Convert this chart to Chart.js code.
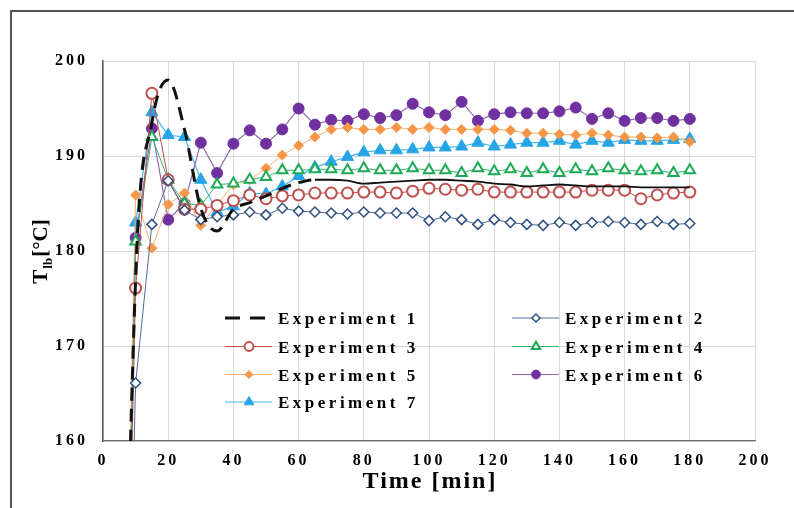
<!DOCTYPE html>
<html>
<head>
<meta charset="utf-8">
<script src="https://cdn.jsdelivr.net/npm/chart.js@4/dist/chart.umd.min.js"></script>
<style>
html, body { margin: 0; padding: 0; background: #fff; overflow: hidden; }
#wrap { position: relative; width: 794px; height: 508px; }
#frame { position: absolute; left: 10px; top: 10px; right: -5px; bottom: -5px;
  border-left: 2px solid #555; border-top: 2px solid #555; pointer-events: none; }
</style>
</head>
<body>
<div id="wrap">
  <canvas id="myChart" width="794" height="508"></canvas>
  <div id="frame"></div>
</div>
<script>
// time axis [min]; first point is the start of the heating, off the plot
const minutes = [0, 10, 15, 20, 25, 30, 35, 40, 45, 50, 55, 60, 65, 70, 75, 80, 85, 90, 95,
  100, 105, 110, 115, 120, 125, 130, 135, 140, 145, 150, 155, 160, 165, 170, 175, 180];

const exp1 = [25, 177.0, 193.5, 198.0, 192.8, 184.5, 182.1, 184.4, 185.1, 185.8, 186.6, 187.2,
  187.5, 187.5, 187.4, 187.1, 187.2, 187.3, 187.4, 187.5, 187.5, 187.4, 187.3, 187.1, 187.0,
  186.8, 186.9, 187.0, 186.9, 186.8, 186.8, 186.8, 186.7, 186.7, 186.7, 186.7];
const exp2 = [25, 166.1, 182.8, 187.4, 184.3, 183.3, 183.6, 183.8, 184.1, 183.8, 184.5, 184.2,
  184.1, 184.0, 183.9, 184.1, 184.0, 184.0, 184.0, 183.2, 183.6, 183.3, 182.8, 183.3, 183.0,
  182.8, 182.7, 183.0, 182.7, 183.0, 183.1, 183.0, 182.8, 183.1, 182.8, 182.9];
const exp3 = [25, 176.1, 196.6, 187.5, 184.4, 184.4, 184.8, 185.3, 185.9, 185.5, 185.8, 185.9,
  186.1, 186.1, 186.1, 186.2, 186.2, 186.1, 186.3, 186.6, 186.5, 186.4, 186.5, 186.2, 186.2,
  186.2, 186.2, 186.2, 186.2, 186.4, 186.4, 186.4, 185.5, 185.9, 186.1, 186.2];
const exp4 = [25, 181.0, 192.0, 187.5, 185.0, 184.8, 187.0, 187.1, 187.5, 187.8, 188.5, 188.5,
  188.6, 188.6, 188.5, 188.7, 188.5, 188.5, 188.7, 188.5, 188.5, 188.2, 188.7, 188.4, 188.6,
  188.2, 188.6, 188.2, 188.6, 188.4, 188.7, 188.5, 188.4, 188.5, 188.2, 188.5];
const exp5 = [25, 185.9, 180.3, 184.9, 186.1, 182.7, 184.9, 187.0, 187.5, 188.7, 190.1, 191.1,
  192.0, 192.8, 193.0, 192.8, 192.8, 193.0, 192.8, 193.0, 192.8, 192.8, 192.8, 192.8, 192.7,
  192.4, 192.4, 192.3, 192.2, 192.4, 192.2, 192.0, 192.0, 191.9, 192.0, 191.5];
const exp6 = [25, 181.4, 192.9, 183.3, 185.0, 191.4, 188.2, 191.3, 192.7, 191.3, 192.8, 195.0,
  193.3, 193.8, 193.7, 194.4, 194.0, 194.3, 195.5, 194.6, 194.3, 195.7, 193.7, 194.4, 194.6,
  194.5, 194.5, 194.7, 195.1, 193.9, 194.5, 193.7, 194.0, 194.0, 193.7, 193.9];
const exp7 = [25, 183.0, 194.6, 192.2, 192.0, 187.5, 184.1, 184.7, 186.1, 186.0, 186.8, 187.9,
  188.8, 189.4, 189.9, 190.4, 190.6, 190.6, 190.7, 190.9, 190.9, 191.0, 191.4, 191.0, 191.2,
  191.4, 191.4, 191.6, 191.2, 191.6, 191.4, 191.7, 191.6, 191.6, 191.7, 191.8];

const seriesNames = ['Experiment 1', 'Experiment 2', 'Experiment 3', 'Experiment 4',
  'Experiment 5', 'Experiment 6', 'Experiment 7'];
const xTicks = [0, 20, 40, 60, 80, 100, 120, 140, 160, 180, 200];
const yTicks = [160, 170, 180, 190, 200];
const xTitle = 'Time [min]';

const SERIF = '"Liberation Serif", "Times New Roman", serif';
const pts = arr => minutes.map((t, i) => ({ x: t, y: arr[i] }));

const styles = [
  { line: '#111', width: 3, pointStyle: false },
  { line: '#4F6D99', width: 1, pointStyle: 'rectRot', radius: 5, fill: '#fff', stroke: '#2F4F7F', bw: 1.5 },
  { line: '#C0504D', width: 1, pointStyle: 'circle', radius: 5.5, fill: '#fff', stroke: '#C0504D', bw: 2 },
  { line: '#3CB371', width: 1, pointStyle: 'triangle', radius: 6, fill: '#fff', stroke: '#1DAA56', bw: 2 },
  { line: '#F5B070', width: 1, pointStyle: 'rectRot', radius: 5, fill: '#F79646', stroke: '#F79646', bw: 1 },
  { line: '#8C6BB1', width: 1.2, pointStyle: 'circle', radius: 5.5, fill: '#7030A0', stroke: '#7030A0', bw: 1 },
  { line: '#47B7E6', width: 1.2, pointStyle: 'triangle', radius: 7, fill: '#26A4E6', stroke: '#26A4E6', bw: 1 }
];

const allData = [exp1, exp2, exp3, exp4, exp5, exp6, exp7];

const datasets = allData.map((arr, i) => {
  const s = styles[i];
  const ds = {
    label: seriesNames[i],
    data: pts(arr),
    borderColor: s.line,
    borderWidth: s.width,
    backgroundColor: s.fill || s.line,
    pointStyle: s.pointStyle,
    pointRadius: s.pointStyle ? s.radius : 0,
    pointBackgroundColor: s.fill,
    pointBorderColor: s.stroke,
    pointBorderWidth: s.bw,
    tension: 0,
    fill: false
  };
  if (i === 0) {
    ds.cubicInterpolationMode = 'monotone';
    ds.segment = {
      borderDash: c => c.p0.parsed.x < 64 ? [13, 8] : [],
      borderWidth: c => c.p0.parsed.x < 64 ? 3 : 1.8
    };
  }
  return ds;
});

// titles, letter-spaced text and the in-plot legend
const decor = {
  id: 'decor',
  beforeDraw(chart) {
    chart.ctx.letterSpacing = '3px';
  },
  afterDraw(chart) {
    const { ctx, chartArea: a } = chart;
    ctx.save();
    ctx.fillStyle = '#000';

    // x title
    ctx.letterSpacing = '2px';
    ctx.font = 'bold 24px ' + SERIF;
    ctx.textAlign = 'center';
    ctx.textBaseline = 'middle';
    ctx.fillText(xTitle, (a.left + a.right) / 2 + 1, 482);

    // y title  T_lb [°C]
    ctx.save();
    ctx.translate(40, (a.top + a.bottom) / 2);
    ctx.rotate(-Math.PI / 2);
    ctx.letterSpacing = '0px';
    ctx.textAlign = 'left';
    ctx.textBaseline = 'alphabetic';
    const parts = [
      ['T', 'bold 21px ' + SERIF, 0],
      ['lb', 'bold 13px ' + SERIF, 5],
      ['[\u00B0C]', 'bold 21px ' + SERIF, 0]
    ];
    let total = 0;
    parts.forEach(p => { ctx.font = p[1]; total += ctx.measureText(p[0]).width + 1; });
    let px = -total / 2;
    parts.forEach(p => {
      ctx.font = p[1];
      ctx.fillText(p[0], px, 7 + p[2]);
      px += ctx.measureText(p[0]).width + 1;
    });
    ctx.restore();

    // legend
    const colX = [225, 512];
    const rowY = [318, 346.5, 374.5, 402];
    seriesNames.forEach((name, i) => {
      const s = styles[i];
      const lx = colX[i % 2];
      const ly = rowY[Math.floor(i / 2)];
      ctx.save();
      ctx.beginPath();
      ctx.strokeStyle = s.line;
      if (i === 0) {
        ctx.lineWidth = 3;
        ctx.moveTo(lx, ly); ctx.lineTo(lx + 15, ly);
        ctx.moveTo(lx + 25, ly); ctx.lineTo(lx + 40, ly);
      } else {
        ctx.lineWidth = 1;
        ctx.moveTo(lx, ly); ctx.lineTo(lx + 47, ly);
      }
      ctx.stroke();
      if (s.pointStyle && Chart.helpers && Chart.helpers.drawPoint) {
        ctx.fillStyle = s.fill;
        ctx.strokeStyle = s.stroke;
        ctx.lineWidth = s.bw;
        Chart.helpers.drawPoint(ctx, {
          pointStyle: s.pointStyle, radius: s.radius * 0.8, rotation: 0, borderWidth: s.bw
        }, lx + 24, ly);
      }
      ctx.restore();
      ctx.fillStyle = '#000';
      ctx.letterSpacing = '3.5px';
      ctx.font = 'bold 17px ' + SERIF;
      ctx.textAlign = 'left';
      ctx.textBaseline = 'alphabetic';
      ctx.fillText(name, lx + 53, ly + 6);
    });
    ctx.restore();
  }
};

const ctx = document.getElementById('myChart').getContext('2d');
const myChart = new Chart(ctx, {
  type: 'line',
  data: { datasets: datasets },
  options: {
    responsive: false,
    animation: false,
    events: [],
    layout: { padding: { left: 0, right: 39, top: 61, bottom: 0 } },
    scales: {
      x: {
        type: 'linear',
        min: 0,
        max: 200,
        afterFit: scale => { scale.height = 67; },
        afterBuildTicks: scale => { scale.ticks = xTicks.map(v => ({ value: v })); },
        grid: { color: '#D9D9D9', lineWidth: 1, drawTicks: false },
        border: { color: '#6E6E6E', width: 1.3 },
        ticks: { color: '#000', padding: 10, font: { family: SERIF, size: 16, weight: 'bold' } }
      },
      y: {
        min: 160,
        max: 200,
        afterFit: scale => { scale.width = 103; },
        afterBuildTicks: scale => { scale.ticks = yTicks.map(v => ({ value: v })); },
        grid: { color: '#D9D9D9', lineWidth: 1, drawTicks: false },
        border: { color: '#5A5A5A', width: 1.5 },
        ticks: { color: '#000', padding: 15, font: { family: SERIF, size: 16, weight: 'bold' } }
      }
    },
    plugins: {
      legend: { display: false },
      tooltip: { enabled: false }
    }
  },
  plugins: [decor]
});
</script>
</body>
</html>
